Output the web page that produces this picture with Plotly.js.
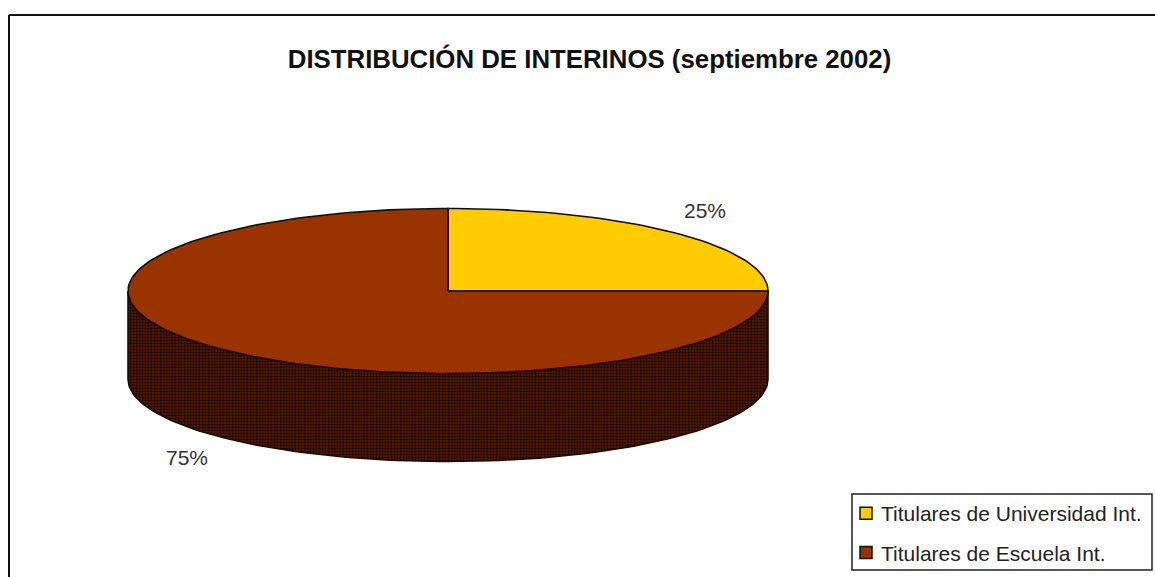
<!DOCTYPE html>
<html>
<head>
<meta charset="utf-8">
<script src="https://cdn.plot.ly/plotly-3.0.1.min.js"></script>
<style>html,body{margin:0;padding:0;background:#fff}#chart{width:1155px;height:577px}</style>
</head>
<body>
<div id="chart"></div>
<script>
const categories = ["Titulares de Universidad Int.", "Titulares de Escuela Int."];
const shares = [25, 75];
const sliceColors = ["#FFCC00", "#993300"];
const titleText = "DISTRIBUCIÓN DE INTERINOS (septiembre 2002)";

const FONT = '"Liberation Sans", Arial, sans-serif';
const cx = 448, cy = 291, rx = 320, ry = 82.5, depth = 88;
const total = shares.reduce((a, b) => a + b, 0);

function rim(f, dy) {
  const t = 2 * Math.PI * f;
  return [cx + rx * Math.sin(t), cy + dy - ry * Math.cos(t)];
}
function arc(f0, f1, dy) {
  const n = Math.max(2, Math.round((f1 - f0) * 240));
  const pts = [];
  for (let i = 0; i <= n; i++) pts.push(rim(f0 + (f1 - f0) * i / n, dy));
  return pts;
}
function polyTrace(pts, extra) {
  return Object.assign({
    type: "scatter", mode: "lines", x: pts.map(p => p[0]), y: pts.map(p => p[1]),
    fill: "toself", line: { color: "#1a0a00", width: 1.6 }, hoverinfo: "skip", showlegend: false
  }, extra);
}

const traces = [];
const wall = arc(0.25, 0.75, 0).concat(arc(0.25, 0.75, depth).reverse());
wall.push(wall[0]);
traces.push(polyTrace(wall, {
  fillcolor: "#4a1700",
  fillpattern: { shape: ".", fgcolor: "#1c0500", bgcolor: "#5a1e00", size: 3, solidity: 0.5 }
}));
let acc = 0;
shares.forEach((v, i) => {
  const f0 = acc / total, f1 = (acc + v) / total;
  acc += v;
  const pts = [[cx, cy]].concat(arc(f0, f1, 0));
  pts.push([cx, cy]);
  traces.push(polyTrace(pts, { fillcolor: sliceColors[i] }));
});
categories.forEach((c, i) => traces.push({
  type: "scatter", mode: "markers", x: [-50], y: [-50], name: c, legendgroup: "g" + i,
  marker: { symbol: "square", size: 12, color: sliceColors[i], line: { color: "#111", width: 1.5 } },
  hoverinfo: "skip", showlegend: true
}));

const layout = {
  width: 1155, height: 577, margin: { l: 0, r: 0, t: 0, b: 0 },
  paper_bgcolor: "#fff", plot_bgcolor: "#fff",
  xaxis: { range: [0, 1155], visible: false, fixedrange: true },
  yaxis: { range: [577, 0], visible: false, fixedrange: true },
  title: { text: titleText, font: { family: FONT, size: 25.8, color: "#111", weight: "bold" },
           xref: "container", yref: "container", x: 589.5 / 1155, xanchor: "center", y: 1 - 59 / 577, yanchor: "middle" },
  legend: { x: 841 / 1155, xanchor: "left", y: 1 - 493 / 577, yanchor: "top", bgcolor: "rgba(0,0,0,0)",
            font: { family: FONT, size: 21, color: "#222" }, tracegroupgap: 9, traceorder: "grouped", itemclick: false, itemdoubleclick: false },
  shapes: [
    { type: "line", xref: "x", yref: "y", x0: 9, x1: 9, y0: 15, y1: 577, line: { color: "#111", width: 2 } },
    { type: "line", xref: "x", yref: "y", x0: 9, x1: 1155, y0: 15, y1: 15, line: { color: "#111", width: 2 } },
    { type: "rect", xref: "x", yref: "y", x0: 852, x1: 1152, y0: 494, y1: 570, line: { color: "#222", width: 1.5 }, fillcolor: "#fff", layer: "below" }
  ],
  annotations: [
    { x: 705, y: 210, xref: "x", yref: "y", text: shares[0] + "%", showarrow: false, font: { family: FONT, size: 21, color: "#333" } },
    { x: 187, y: 457, xref: "x", yref: "y", text: shares[1] + "%", showarrow: false, font: { family: FONT, size: 21, color: "#333" } }
  ]
};
Plotly.newPlot("chart", traces, layout, { displayModeBar: false }).then(gd => {
  // the reference keys sit closer to their labels than Plotly's fixed 30px key column
  gd.querySelectorAll(".legend .legendsymbols").forEach(s => s.setAttribute("transform", "translate(5,0)"));
});
</script>
</body>
</html>
